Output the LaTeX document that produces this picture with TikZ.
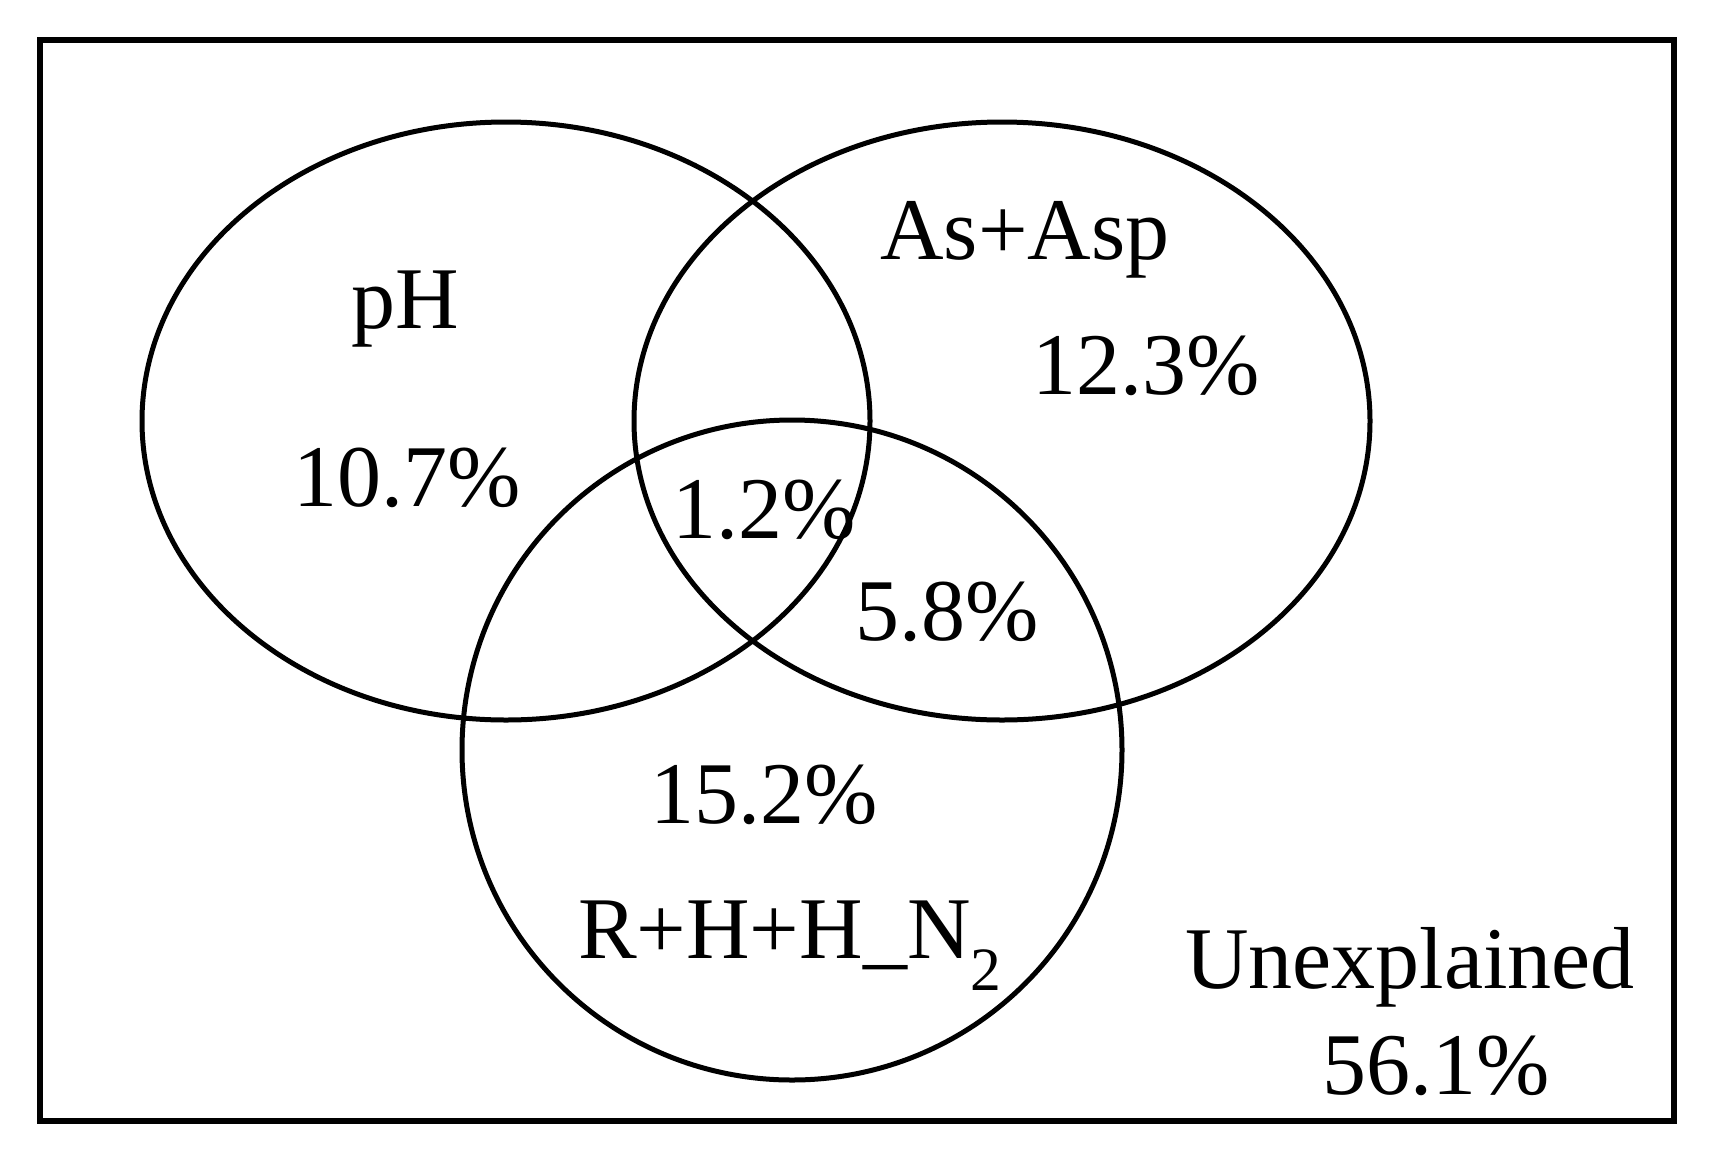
\documentclass[tikz,border=0pt]{standalone}
\usepackage{fontspec}
\setmainfont{Liberation Serif}
\begin{document}
\begin{tikzpicture}[x=1pt,y=-1pt,
  setline/.style={line width=5pt, black},
  framebox/.style={line width=6.5pt, black},
  lbl/.style={anchor=base, inner sep=0pt, font=\fontsize{88}{100}\selectfont}]
\useasboundingbox (0,0) rectangle (1716,1160);
\fill[white] (0,0) rectangle (1716,1160);
\draw[framebox] (40,40) rectangle (1674,1121);
\draw[setline] (506,421) ellipse [x radius=364pt, y radius=299pt];
\draw[setline] (1002,421) ellipse [x radius=368pt, y radius=299pt];
\draw[setline] (792,750) ellipse [x radius=330pt, y radius=330pt];
\node[lbl] (ph) at (405,328) {pH};
\node[lbl] (phv) at (407,506) {10.7\%};
\node[lbl] (as) at (1025,259) {As+Asp};
\node[lbl] (asv) at (1146,394) {12.3\%};
\node[lbl] (all) at (764,538) {1.2\%};
\node[lbl] (asr) at (947,640) {5.8\%};
\node[lbl] (rv) at (764,823) {15.2\%};
\node[lbl] (r) at (790,958) {R+H+H\_N\textsubscript{2}};
\node[lbl] (un) at (1410,988) {Unexplained};
\node[lbl] (unv) at (1436,1094) {56.1\%};
\end{tikzpicture}
\end{document}
